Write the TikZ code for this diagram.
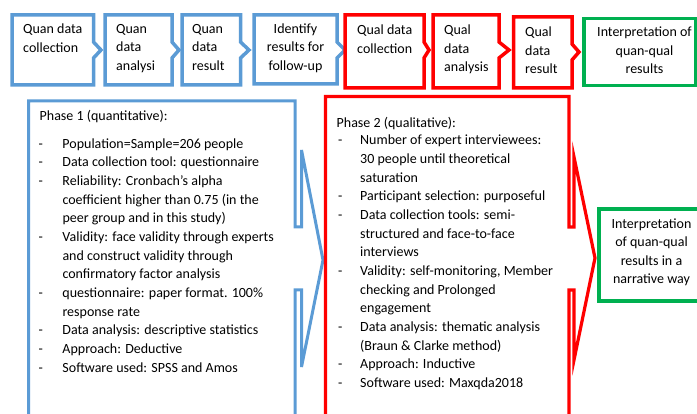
\documentclass[tikz,border=0pt]{standalone}
\usepackage{fontspec}
\setmainfont{Carlito}
\definecolor{qblue}{HTML}{5B9BD5}
\definecolor{qred}{HTML}{FF0000}
\definecolor{qgreen}{HTML}{00B050}
\definecolor{ink}{HTML}{000000}
% box with a small chevron on its right side:
% #1 style, #2 left, #3 top, #4 right, #5 bottom, #6 tip x, #7 tip y
\newcommand\chevbox[7]{%
  \draw[#1] (#2,#3) -- (#4,#3) -- (#4,{#7-8}) -- (#6,#7) -- (#4,{#7+8})
    -- (#4,#5) -- (#2,#5) -- cycle;}
\begin{document}
\begin{tikzpicture}[x=1pt,y=-1pt,
  bluebox/.style={draw=qblue,line width=3.5pt,fill=white},
  redbox/.style={draw=qred,line width=3.5pt,fill=white},
  greenbox/.style={draw=qgreen,line width=3.2pt,fill=white},
  bigblue/.style={draw=qblue,line width=3pt},
  bigred/.style={draw=qred,line width=3.2pt},
  txt/.style={inner sep=0pt,anchor=base west,text=ink,
    font=\fontsize{14}{18.5}\selectfont},
  ctxt/.style={txt,anchor=base},
  listtxt/.style={txt,font=\fontsize{14}{18.65}\selectfont}]
\useasboundingbox (0,0) rectangle (697,414);
\clip (0,0) rectangle (697,414);

% top row of process steps
\chevbox{bluebox}{12}{15}{93.5}{85}{101}{50}
\chevbox{bluebox}{105}{15}{172}{85}{179}{50}
\chevbox{bluebox}{182}{15}{240.5}{85}{249}{50}
\chevbox{bluebox}{254}{15}{337}{84}{345}{50}
\chevbox{redbox}{345}{15}{424}{88}{429}{50}
\chevbox{redbox}{433}{15}{499}{88}{509}{50}
\chevbox{redbox}{513.5}{17}{572}{88}{579}{52}
\draw[greenbox] (584,18.5) rectangle (696,85.5);

\node[txt] (s1) at (23,34) {\begin{tabular}[t]{@{}l@{}}Quan data\\collection\end{tabular}};
\node[txt] (s2) at (116,33.5) {\begin{tabular}[t]{@{}l@{}}Quan\\data\\analysi\end{tabular}};
\node[txt] (s3) at (192,33.5) {\begin{tabular}[t]{@{}l@{}}Quan\\data\\result\end{tabular}};
\node[ctxt] (s4) at (295.5,33.5) {\begin{tabular}[t]{@{}c@{}}Identify\\results for\\follow-up\end{tabular}};
\node[txt] (s5) at (357,35) {\begin{tabular}[t]{@{}l@{}}Qual data\\collection\end{tabular}};
\node[txt] (s6) at (444,35) {\begin{tabular}[t]{@{}l@{}}Qual\\data\\analysis\end{tabular}};
\node[txt] (s7) at (525,37) {\begin{tabular}[t]{@{}l@{}}Qual\\data\\result\end{tabular}};
\node[ctxt] (s8) at (644.5,37) {\begin{tabular}[t]{@{}c@{}}Interpretation of\\quan-qual\\results\end{tabular}};

% phase 1 panel with its arrow notch
\draw[bigblue] (28.5,430) -- (28.5,101) -- (295,101) -- (295,227) -- (301.5,227)
  -- (301.5,150) -- (323,260) -- (301.5,367) -- (301.5,290) -- (295,290) -- (295,430);
% phase 2 panel with its arrow notch
\draw[bigred] (325.5,430) -- (325.5,96.5) -- (569,96.5) -- (569,227) -- (574,227)
  -- (574,157) -- (595,258) -- (574,360) -- (574,290) -- (569,290) -- (569,430);
% final interpretation
\draw[greenbox] (599,209) rectangle (700,301);

\node[txt] (p1t) at (39.5,120.7) {Phase 1 (quantitative):};
\node[listtxt] (p1) at (38.5,148.3) {\begin{tabular}[t]{@{}p{23.8pt}@{}l@{}}
- & Population=Sample=206 people\\
- & Data collection tool: questionnaire\\
- & Reliability: Cronbach's alpha\\
  & coefficient higher than 0.75 (in the\\
  & peer group and in this study)\\
- & Validity: face validity through experts\\
  & and construct validity through\\
  & confirmatory factor analysis\\
- & questionnaire: paper format. 100\%\\
  & response rate\\
- & Data analysis: descriptive statistics\\
- & Approach: Deductive\\
- & Software used: SPSS and Amos
\end{tabular}};

\node[txt] (p2t) at (336.5,127.3) {Phase 2 (qualitative):};
\node[listtxt] (p2) at (338,145) {\begin{tabular}[t]{@{}p{22pt}@{}l@{}}
- & Number of expert interviewees:\\
  & 30 people until theoretical\\
  & saturation\\
- & Participant selection: purposeful\\
- & Data collection tools: semi-\\
  & structured and face-to-face\\
  & interviews\\
- & Validity: self-monitoring, Member\\
  & checking and Prolonged\\
  & engagement\\
- & Data analysis: thematic analysis\\
  & (Braun \& Clarke method)\\
- & Approach: Inductive\\
- & Software used: Maxqda2018
\end{tabular}};

\node[ctxt] (fin) at (651.5,228.3) {\begin{tabular}[t]{@{}c@{}}Interpretation\\of quan-qual\\results in a\\narrative way\end{tabular}};
\end{tikzpicture}
\end{document}
